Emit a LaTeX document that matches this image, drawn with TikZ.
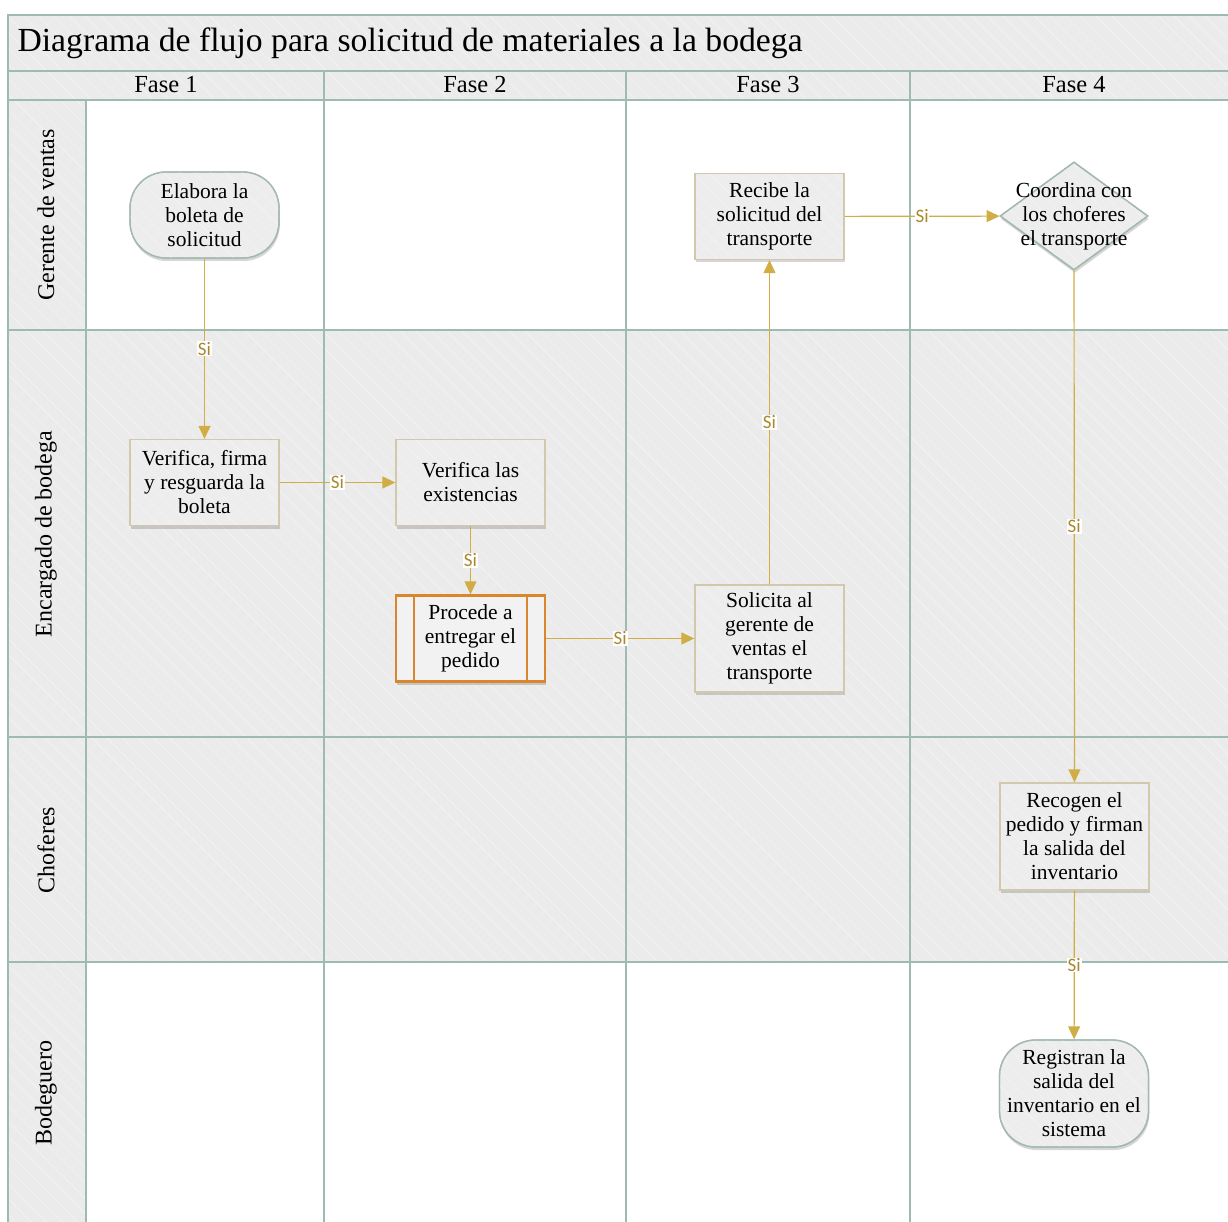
\documentclass[tikz,border=0pt]{standalone}
\usepackage{fontspec}
\setmainfont{Liberation Serif}
\newfontfamily\labelfont{Carlito}
\usetikzlibrary{arrows.meta,shapes.geometric,shadows,patterns.meta}

\definecolor{lanegray}{HTML}{EBEBEB}
\definecolor{hatchline}{HTML}{F4F4F4}
\definecolor{gridline}{HTML}{9FBAB3}
\definecolor{flow}{HTML}{D1AE45}
\definecolor{flowtext}{HTML}{A9892E}
\definecolor{boxfill}{HTML}{EDEDED}
\definecolor{subfill}{HTML}{F2F2F2}
\definecolor{boxedge}{HTML}{D2C9AC}
\definecolor{termedge}{HTML}{A4B9B0}
\definecolor{procedge}{HTML}{D9862C}

\tikzset{
  hatch/.style={postaction={pattern={Lines[angle=-45,distance=11pt,line width=0.6pt]},pattern color=hatchline}},
  hatched box/.style={postaction={pattern={Lines[angle=-45,distance=11pt,line width=0.6pt]},pattern color=hatchline},
    postaction={draw=#1, line width=1.3pt}},
  shaded lane/.style={fill=lanegray, hatch},
  grid/.style={draw=gridline, line width=1.4pt},
  nodeshadow/.style={drop shadow={shadow xshift=0.8pt,shadow yshift=-3pt,opacity=0.16,fill=black}},
  txt/.style={font=\fontsize{21.5}{24}\selectfont, align=center, text=black},
  task/.style={txt, rectangle, draw=boxedge, line width=1.3pt, fill=boxfill,
    minimum width=149pt, minimum height=86pt, inner sep=0pt, nodeshadow, hatched box=boxedge},
  tall/.style={minimum height=107pt},
  term/.style={txt, rectangle, rounded corners=36pt, draw=termedge, line width=1.3pt,
    fill=boxfill, minimum width=149pt, minimum height=86pt, inner sep=0pt, nodeshadow, hatched box=termedge},
  decide/.style={diamond, draw=termedge, line width=1.3pt, fill=boxfill,
    minimum width=148pt, minimum height=108pt, inner sep=0pt, nodeshadow, hatched box=termedge},
  subproc/.style={txt, rectangle, draw=procedge, line width=2.4pt, fill=subfill,
    minimum width=149pt, minimum height=86pt, inner sep=0pt, nodeshadow,
    path picture={\draw[procedge, line width=2.4pt]
      ([xshift=18pt]path picture bounding box.north west) -- ([xshift=18pt]path picture bounding box.south west)
      ([xshift=-18pt]path picture bounding box.north east) -- ([xshift=-18pt]path picture bounding box.south east);}},
  flowline/.style={draw=flow, line width=1.2pt, -{Triangle[length=13pt,width=12pt]}},
  yes/.style={font=\labelfont\fontsize{19}{19}\selectfont, text=flowtext, fill=white, inner sep=0.8pt},
  lanetitle/.style={font=\fontsize{24}{26}\selectfont, rotate=90},
  phasetitle/.style={font=\fontsize{24.5}{26}\selectfont},
}

\begin{document}
\begin{tikzpicture}[x=1pt,y=-1pt]
\useasboundingbox (0,0) rectangle (1228,1222);
\fill[white] (0,0) rectangle (1228,1222);

% shaded bands: title, phase header, lane labels, two middle lanes
\path[shaded lane] (8,15) rectangle (1228,100);
\path[shaded lane] (8,100) rectangle (86,1222);
\path[shaded lane] (86,330) rectangle (1228,962);

% pool grid
\draw[grid] (8,1222) -- (8,15) -- (1228,15);
\draw[grid] (8,71) -- (1228,71);
\draw[grid] (8,100) -- (1228,100);
\draw[grid] (8,330) -- (1228,330);
\draw[grid] (8,737) -- (1228,737);
\draw[grid] (8,962) -- (1228,962);
\draw[grid] (86,100) -- (86,1222);
\draw[grid] (324,71) -- (324,1222);
\draw[grid] (626,71) -- (626,1222);
\draw[grid] (910,71) -- (910,1222);

% titles
\node[anchor=west, font=\fontsize{33.7}{36}\selectfont] (title) at (14,43)
  {Diagrama de flujo para solicitud de materiales a la bodega};
\node[phasetitle] (f1) at (166,85) {Fase 1};
\node[phasetitle] (f2) at (475,85) {Fase 2};
\node[phasetitle] (f3) at (768,85) {Fase 3};
\node[phasetitle] (f4) at (1074,85) {Fase 4};
\node[lanetitle] (l1) at (46,215) {Gerente de ventas};
\node[lanetitle] (l2) at (46,534) {Encargado de bodega};
\node[lanetitle] (l3) at (46,850) {Choferes};
\node[lanetitle] (l4) at (46,1093) {Bodeguero};

% process steps
\node[term] (elabora) at (204.5,215) {Elabora la\\boleta de\\solicitud};
\node[task] (firma) at (204.5,482.5) {Verifica, firma\\y resguarda la\\boleta};
\node[task] (exist) at (470.5,482.5) {Verifica las\\existencias};
\node[subproc] (entrega) at (470.5,638.5) {Procede a\\entregar el\\pedido};
\node[task, tall] (solicita) at (769.5,638.5) {Solicita al\\gerente de\\ventas el\\transporte};
\node[task] (recibe) at (769.5,216.5) {Recibe la\\solicitud del\\transporte};
\node[decide, label={[txt]center:Coordina con\\los choferes\\el transporte}] (coord) at (1074,216) {};
\node[task, tall] (recogen) at (1074.5,836.5) {Recogen el\\pedido y firman\\la salida del\\inventario};
\node[term, tall] (registran) at (1074,1093.5) {Registran la\\salida del\\inventario en el\\sistema};

% connectors
\draw[flowline] (elabora) -- node[yes]{Si} (firma);
\draw[flowline] (firma) -- node[yes]{Si} (exist);
\draw[flowline] (exist) -- node[yes]{Si} (entrega);
\draw[flowline] (entrega) -- node[yes]{Si} (solicita);
\draw[flowline] (solicita) -- node[yes]{Si} (recibe);
\draw[flowline] (recibe) -- node[yes]{Si} (coord);
\draw[flowline] (coord) -- node[yes]{Si} (recogen);
\draw[flowline] (recogen) -- node[yes]{Si} (registran);
\end{tikzpicture}
\end{document}
